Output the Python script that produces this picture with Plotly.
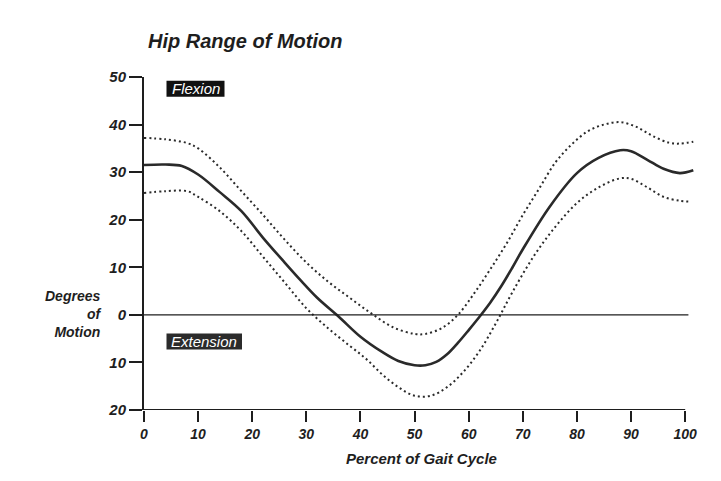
import plotly.graph_objects as go

# ---- data ----
pct_mean = [0, 4, 7, 10, 14, 18, 22, 26, 29, 32, 36, 40, 44, 47, 50, 52, 54, 56, 58, 60, 62, 64, 66, 68, 70, 75, 80, 84, 88, 90, 93, 96, 99, 101.5]
deg_mean = [31.5, 31.6, 31.3, 29.5, 25.8, 21.8, 16.2, 11.0, 7.2, 3.6, -0.4, -4.6, -7.8, -9.7, -10.6, -10.6, -9.9, -8.3, -5.9, -3.2, -0.4, 2.6, 6.0, 9.8, 13.8, 22.8, 29.8, 33.0, 34.6, 34.4, 32.6, 30.7, 29.8, 30.4]

pct_upper = [0, 4, 8, 10, 14, 18, 22, 26, 30, 34, 38, 42, 46, 50, 52, 55, 58, 61, 64, 67, 70, 73, 76, 79, 82, 85, 88, 91, 94, 97, 99, 101.5]
deg_upper = [37.2, 36.9, 36.1, 35.0, 31.0, 26.0, 21.0, 15.8, 11.0, 7.0, 3.6, 0.3, -2.6, -4.0, -4.0, -2.8, 0.0, 4.5, 9.6, 15.0, 21.0, 26.5, 32.0, 35.8, 38.6, 40.0, 40.5, 39.5, 37.6, 36.2, 36.0, 36.4]

pct_lower = [0, 4, 8, 10, 14, 18, 22, 26, 30, 34, 38, 41, 44, 47, 50, 53, 56, 59, 62, 65, 68, 72, 76, 80, 84, 88, 90, 93, 96, 99, 101]
deg_lower = [25.6, 26.0, 26.0, 24.8, 21.8, 17.6, 12.2, 6.8, 1.4, -2.8, -6.5, -9.2, -12.5, -15.2, -17.0, -17.0, -15.2, -12.0, -7.6, -1.8, 4.6, 12.3, 18.5, 23.5, 26.8, 28.7, 28.6, 26.8, 24.8, 24.0, 23.8]

x_ticks = [0, 10, 20, 30, 40, 50, 60, 70, 80, 90, 100]
x_ticktext = ["0", "10", "20", "30", "40", "50", "60", "70", "80", "90", "100"]
y_ticks = [50, 40, 30, 20, 10, 0, -10, -20]
y_ticktext = ["50", "40", "30", "20", "10", "0", "10", "20"]

# ---- layout geometry (page has an 8px body margin) ----
OFF = 8
W, H = 721 - 2 * OFF, 481 - 2 * OFF
ML, MT = 144 - OFF, 77 - OFF
PR, PB = 696 - OFF, 410 - OFF       # right / bottom edges of plot area in figure pixels
MR, MB = W - PR, H - PB
PW, PH = PR - ML, PB - MT


def px(xp):
    # page pixel -> paper x
    return (xp - OFF - ML) / PW


def py(yp):
    # page pixel -> paper y
    return (PB - (yp - OFF)) / PH


FONT = "Liberation Sans, Arial, sans-serif"
INK = "#1e1e1e"

fig = go.Figure()

fig.add_trace(go.Scatter(x=pct_upper, y=deg_upper, mode="lines",
                         line=dict(color="#2a2a2a", width=2, dash="2px,3px", shape="spline", smoothing=1),
                         showlegend=False, hoverinfo="skip"))
fig.add_trace(go.Scatter(x=pct_lower, y=deg_lower, mode="lines",
                         line=dict(color="#2a2a2a", width=2, dash="2px,3px", shape="spline", smoothing=1),
                         showlegend=False, hoverinfo="skip"))
fig.add_trace(go.Scatter(x=pct_mean, y=deg_mean, mode="lines",
                         line=dict(color="#2a2a2a", width=2.6, shape="spline", smoothing=1),
                         showlegend=False, hoverinfo="skip"))

shapes = [
    dict(type="line", xref="x", yref="y", x0=0, x1=100.6, y0=0, y1=0,
         line=dict(color=INK, width=1.3)),
    dict(type="line", xref="x", yref="y", x0=0, x1=100, y0=-20, y1=-20,
         line=dict(color=INK, width=2)),
    dict(type="rect", xref="paper", yref="paper", x0=px(166.5), x1=px(224.5), y0=py(96.7), y1=py(80.7),
         fillcolor="#111111", line=dict(width=0)),
    dict(type="rect", xref="paper", yref="paper", x0=px(166.5), x1=px(242), y0=py(349.5), y1=py(333.5),
         fillcolor="#2b2b2b", line=dict(width=0)),
]

bi = dict(family=FONT, color=INK, weight="bold", style="italic")

annotations = [
    dict(text="Hip Range of Motion", xref="paper", yref="paper", x=px(146), y=py(41),
         xanchor="left", yanchor="middle", showarrow=False, font=dict(size=20, **bi)),
    dict(text="Flexion", xref="paper", yref="paper", x=px(195.5), y=py(88.7),
         xanchor="center", yanchor="middle", showarrow=False,
         font=dict(family=FONT, size=15, color="white", style="italic")),
    dict(text="Extension", xref="paper", yref="paper", x=px(204), y=py(341.5),
         xanchor="center", yanchor="middle", showarrow=False,
         font=dict(family=FONT, size=15, color="white", style="italic")),
    dict(text="Degrees<br>of<br>Motion", xref="paper", yref="paper", x=px(104), y=py(314),
         xanchor="right", yanchor="middle", align="right", showarrow=False,
         font=dict(size=14, **bi)),
    dict(text="Percent of Gait Cycle", xref="paper", yref="paper", x=px(421), y=py(458),
         xanchor="center", yanchor="middle", showarrow=False, font=dict(size=15, **bi)),
]

fig.update_layout(
    width=W, height=H,
    margin=dict(l=ML, r=MR, t=MT, b=MB, pad=0),
    paper_bgcolor="white", plot_bgcolor="white",
    shapes=shapes, annotations=annotations,
    xaxis=dict(range=[0, 102], showline=False, showgrid=False, zeroline=False,
               ticks="outside", ticklen=11, tickwidth=1.5, tickcolor=INK,
               tickvals=x_ticks, ticktext=x_ticktext,
               tickfont=dict(size=14, **bi)),
    yaxis=dict(range=[-20, 50], showline=True, linecolor=INK, linewidth=2,
               showgrid=False, zeroline=False,
               ticks="outside", ticklen=13, tickwidth=1.5, tickcolor=INK,
               tickvals=y_ticks, ticktext=y_ticktext,
               tickfont=dict(size=15, **bi)),
)

fig.write_html("out.html")
